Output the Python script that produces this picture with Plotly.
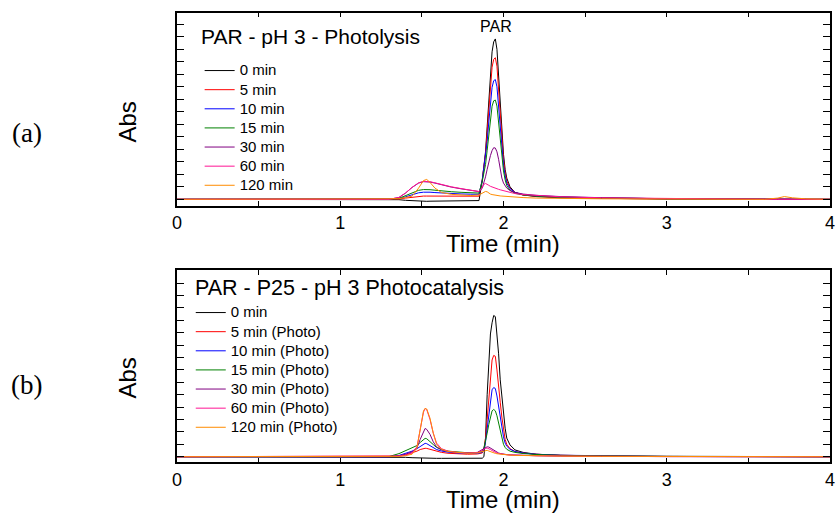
import plotly.graph_objects as go

# ---------------- data ----------------
# Panel (a): PAR - pH 3 - Photolysis
time_a = [0.00, 1.30, 1.36, 1.40, 1.44, 1.48, 1.51, 1.53, 1.55, 1.58, 1.62, 1.68, 1.74, 1.80, 1.85,
          1.87, 1.88, 1.89, 1.90, 1.91, 1.92, 1.93, 1.94, 1.95, 1.96, 1.97, 1.98, 1.99, 2.00, 2.01,
          2.02, 2.04, 2.07, 2.12, 2.20, 2.35, 2.60, 3.00, 3.60, 3.68, 3.72, 3.77, 3.85, 4.00]
labels_a = ["0 min", "5 min", "10 min", "15 min", "30 min", "60 min", "120 min"]
abs_a_0 = [0, 0, -0.03, -0.08, -0.12, -0.15, -0.16, -0.16, -0.15, -0.14, -0.13, -0.12, -0.12, -0.11, -0.10,
           1.5, 2.8, 3.8, 5.8, 8.0, 10.3, 11.8, 12.6, 12.83, 12.0, 10.0, 7.4, 5.4, 3.6, 2.4,
           1.7, 1.0, 0.55, 0.35, 0.22, 0.12, 0.06, 0.02, 0, 0, 0, 0, 0, 0]
abs_a_5 = [0, 0, 0.03, 0.10, 0.18, 0.24, 0.26, 0.26, 0.26, 0.25, 0.25, 0.24, 0.24, 0.24, 0.25,
           1.6, 2.74, 3.65, 5.35, 7.2, 9.26, 10.57, 11.2, 11.33, 10.65, 8.84, 6.57, 4.76, 3.17, 2.15,
           1.47, 0.9, 0.55, 0.35, 0.25, 0.15, 0.08, 0.03, 0, 0, 0, 0, 0, 0]
abs_a_10 = [0, 0, 0.06, 0.20, 0.38, 0.52, 0.57, 0.58, 0.57, 0.54, 0.50, 0.46, 0.43, 0.41, 0.40,
            1.55, 2.51, 3.22, 4.61, 6.19, 7.86, 8.96, 9.49, 9.58, 9.0, 7.47, 5.56, 4.02, 2.73, 1.87,
            1.3, 0.85, 0.55, 0.38, 0.27, 0.17, 0.10, 0.04, 0, 0, 0, 0, 0, 0]
abs_a_15 = [0, 0, 0.08, 0.28, 0.52, 0.72, 0.78, 0.79, 0.77, 0.73, 0.67, 0.61, 0.56, 0.52, 0.50,
            1.45, 2.2, 2.78, 3.92, 5.22, 6.55, 7.45, 7.88, 7.94, 7.46, 6.19, 4.61, 3.33, 2.27, 1.56,
            1.1, 0.72, 0.48, 0.35, 0.26, 0.17, 0.10, 0.04, 0, 0, 0, 0, 0, 0]
abs_a_30 = [0, 0, 0.15, 0.5, 0.95, 1.3, 1.41, 1.42, 1.38, 1.3, 1.15, 0.98, 0.84, 0.72, 0.62,
            0.9, 1.3, 1.8, 2.4, 3.0, 3.5, 3.9, 4.13, 4.1, 3.8, 3.2, 2.4, 1.7, 1.3, 1.05,
            0.9, 0.7, 0.55, 0.42, 0.32, 0.22, 0.13, 0.05, 0, 0, 0, 0, 0, 0]
abs_a_60 = [0, 0, 0.15, 0.5, 0.95, 1.32, 1.44, 1.45, 1.41, 1.32, 1.17, 1.0, 0.86, 0.74, 0.62,
            0.95, 1.2, 1.27, 1.22, 1.12, 1.04, 0.98, 0.93, 0.88, 0.84, 0.8, 0.76, 0.72, 0.68, 0.64,
            0.6, 0.54, 0.46, 0.38, 0.3, 0.2, 0.12, 0.05, 0, 0, 0, 0, 0, 0]
abs_a_120 = [0, 0, 0.05, 0.15, 0.25, 0.9, 1.5, 1.59, 1.35, 0.9, 0.55, 0.4, 0.33, 0.3, 0.35,
             0.5, 0.58, 0.63, 0.6, 0.5, 0.42, 0.38, 0.35, 0.33, 0.31, 0.29, 0.27, 0.26, 0.25, 0.24,
             0.22, 0.2, 0.17, 0.14, 0.1, 0.07, 0.04, 0.02, 0, 0.1, 0.22, 0.12, 0.04, 0]

# Panel (b): PAR - P25 - pH 3 Photocatalysis
time_b = [0.00, 1.30, 1.36, 1.40, 1.44, 1.47, 1.49, 1.51, 1.52, 1.53, 1.55, 1.57, 1.59, 1.62, 1.66,
          1.72, 1.78, 1.84, 1.87, 1.88, 1.89, 1.90, 1.91, 1.92, 1.93, 1.94, 1.95, 1.96, 1.97, 1.98,
          1.99, 2.00, 2.01, 2.02, 2.04, 2.07, 2.12, 2.20, 2.35, 2.60, 3.00, 4.00]
labels_b = ["0 min", "5 min (Photo)", "10 min (Photo)", "15 min (Photo)", "30 min (Photo)",
            "60 min (Photo)", "120 min (Photo)"]
abs_b_0 = [0, 0, -0.02, -0.05, -0.08, -0.1, -0.1, -0.08, -0.08, -0.08, -0.1, -0.12, -0.13, -0.13, -0.13,
           -0.13, -0.13, -0.12, -0.12, 0.0, 1.5, 5.0, 7.8, 9.9, 10.8, 11.39, 11.3, 9.9, 8.3, 6.2,
           4.8, 3.3, 2.3, 1.5, 0.95, 0.55, 0.35, 0.2, 0.1, 0.05, 0.02, 0]
abs_b_5 = [0, 0, 0.05, 0.15, 0.3, 0.45, 0.58, 0.66, 0.68, 0.67, 0.6, 0.5, 0.42, 0.35, 0.28,
           0.22, 0.2, 0.22, 0.3, 0.6, 1.5, 3.0, 4.6, 6.5, 7.8, 8.17, 8.1, 7.0, 5.9, 4.4,
           3.2, 2.2, 1.4, 1.0, 0.65, 0.42, 0.3, 0.2, 0.12, 0.06, 0.02, 0]
abs_b_10 = [0, 0, 0.1, 0.25, 0.45, 0.65, 0.85, 1.02, 1.08, 1.05, 0.9, 0.72, 0.58, 0.46, 0.37,
            0.3, 0.26, 0.27, 0.35, 0.6, 1.2, 2.2, 3.4, 4.6, 5.4, 5.58, 5.5, 4.9, 4.1, 3.0,
            2.2, 1.6, 1.1, 0.85, 0.6, 0.42, 0.3, 0.2, 0.12, 0.06, 0.02, 0]
abs_b_15 = [0, 0.02, 0.25, 0.5, 0.7, 0.9, 1.15, 1.42, 1.48, 1.45, 1.25, 0.98, 0.75, 0.58, 0.45,
            0.36, 0.32, 0.34, 0.45, 0.7, 1.2, 1.9, 2.6, 3.3, 3.7, 3.81, 3.7, 3.3, 2.7, 2.0,
            1.45, 1.0, 0.75, 0.6, 0.45, 0.35, 0.26, 0.18, 0.11, 0.06, 0.02, 0]
abs_b_30 = [0, 0, 0.08, 0.2, 0.4, 0.7, 1.4, 2.1, 2.28, 2.2, 1.8, 1.2, 0.8, 0.55, 0.42,
            0.33, 0.3, 0.35, 0.55, 0.65, 0.75, 0.8, 0.78, 0.7, 0.6, 0.5, 0.42, 0.35, 0.3, 0.26,
            0.23, 0.2, 0.18, 0.17, 0.15, 0.13, 0.11, 0.08, 0.05, 0.03, 0.01, 0]
abs_b_60 = [0, 0, 0.05, 0.12, 0.3, 0.8, 2.2, 3.6, 3.89, 3.8, 3.0, 1.9, 1.1, 0.65, 0.45,
            0.34, 0.3, 0.33, 0.5, 0.6, 0.68, 0.7, 0.66, 0.58, 0.5, 0.42, 0.36, 0.3, 0.26, 0.23,
            0.2, 0.18, 0.17, 0.16, 0.14, 0.12, 0.1, 0.08, 0.05, 0.03, 0.01, 0]
abs_b_120 = [0, 0, 0.03, 0.08, 0.2, 0.7, 2.3, 3.7, 3.9, 3.85, 3.1, 1.9, 1.0, 0.6, 0.42,
             0.32, 0.28, 0.3, 0.42, 0.5, 0.54, 0.52, 0.46, 0.4, 0.34, 0.3, 0.27, 0.24, 0.22, 0.2,
             0.18, 0.17, 0.16, 0.15, 0.13, 0.11, 0.09, 0.07, 0.05, 0.03, 0.01, 0]

x_ticks = [0, 1, 2, 3, 4]
par_peak_time = 1.955
title_a = "PAR - pH 3 - Photolysis"
title_b = "PAR - P25 - pH 3 Photocatalysis"

series_a = [abs_a_0, abs_a_5, abs_a_10, abs_a_15, abs_a_30, abs_a_60, abs_a_120]
series_b = [abs_b_0, abs_b_5, abs_b_10, abs_b_15, abs_b_30, abs_b_60, abs_b_120]
colors = ["#000000", "#ff0000", "#0000ff", "#008000", "#800080", "#ff1493", "#ff8c00"]

# ---------------- figure ----------------
W, H = 840, 514
FONT = "Liberation Sans, Arial, sans-serif"
SERIF = "Liberation Serif, Times New Roman, serif"
LEG_TXT = "<span style='font-size:15px'>{}</span>"

fig = go.Figure()
for name, ys, c in zip(labels_a, series_a, colors):
    fig.add_trace(go.Scatter(x=time_a, y=ys, mode="lines", name=LEG_TXT.format(name),
                             line=dict(color=c, width=1), xaxis="x", yaxis="y", legend="legend"))
for name, ys, c in zip(labels_b, series_b, colors):
    fig.add_trace(go.Scatter(x=time_b, y=ys, mode="lines", name=LEG_TXT.format(name),
                             line=dict(color=c, width=1), xaxis="x2", yaxis="y2", legend="legend2"))

def px_x(p):
    return p / W

def px_y(p):
    return 1 - p / H

xcommon = dict(range=[0, 4], tickvals=x_ticks, ticks="inside", ticklen=5, tickwidth=1.2,
               tickcolor="black", showline=True, linecolor="black", linewidth=1.5, mirror="ticks",
               showgrid=False, zeroline=False, ticklabeloverflow="allow",
               tickfont=dict(size=18, color="black", family=FONT),
               minor=dict(dtick=0.5, ticks="inside", ticklen=5, tickwidth=1.2, tickcolor="black",
                          showgrid=False))
ycommon = dict(dtick=1, tick0=0, ticks="inside", ticklen=7, tickwidth=1.2, tickcolor="black",
               showline=True, linecolor="black", linewidth=1.5, mirror="ticks",
               showgrid=False, zeroline=False, showticklabels=False)

plot_l, plot_r = 174, 835
leg_common = dict(xanchor="left", yanchor="top", bgcolor="rgba(0,0,0,0)", borderwidth=0,
                  font=dict(size=12.4, family=FONT, color="black"))
fig.update_layout(
    width=W, height=H, margin=dict(l=0, r=0, t=0, b=0),
    paper_bgcolor="white", plot_bgcolor="white",
    font=dict(family=FONT, color="black"),
    xaxis=dict(domain=[px_x(plot_l), px_x(plot_r)], anchor="y", **xcommon),
    yaxis=dict(domain=[px_y(205.7), px_y(12.7)], anchor="x", range=[-0.51, 14.93], **ycommon),
    xaxis2=dict(domain=[px_x(plot_l), px_x(plot_r)], anchor="y2", **xcommon),
    yaxis2=dict(domain=[px_y(462.3), px_y(270)], anchor="x2", range=[-0.45, 15.06], **ycommon),
    legend=dict(x=px_x(197), y=px_y(56), **leg_common),
    legend2=dict(x=px_x(188), y=px_y(298), **leg_common),
    showlegend=True,
)

ann = [
    dict(text="PAR", x=par_peak_time, y=max(abs_a_0), xref="x", yref="y", yanchor="bottom",
         showarrow=False, font=dict(size=16), yshift=2),
    dict(text=title_a, x=px_x(196), y=px_y(37), xref="paper", yref="paper",
         xanchor="left", yanchor="middle", showarrow=False, font=dict(size=21)),
    dict(text=title_b, x=px_x(190), y=px_y(287.5), xref="paper", yref="paper",
         xanchor="left", yanchor="middle", showarrow=False, font=dict(size=21.5)),
    dict(text="Time (min)", x=px_x((plot_l + plot_r) / 2), y=px_y(243), xref="paper", yref="paper",
         xanchor="center", yanchor="middle", showarrow=False, font=dict(size=24)),
    dict(text="Time (min)", x=px_x((plot_l + plot_r) / 2), y=px_y(499), xref="paper", yref="paper",
         xanchor="center", yanchor="middle", showarrow=False, font=dict(size=24)),
    dict(text="Abs", x=px_x(123), y=px_y(122), xref="paper", yref="paper", textangle=-90,
         xanchor="center", yanchor="middle", showarrow=False, font=dict(size=24)),
    dict(text="Abs", x=px_x(123), y=px_y(378), xref="paper", yref="paper", textangle=-90,
         xanchor="center", yanchor="middle", showarrow=False, font=dict(size=24)),
    dict(text="(a)", x=px_x(22), y=px_y(133), xref="paper", yref="paper", showarrow=False,
         xanchor="center", yanchor="middle", font=dict(size=27, family=SERIF)),
    dict(text="(b)", x=px_x(22), y=px_y(385), xref="paper", yref="paper", showarrow=False,
         xanchor="center", yanchor="middle", font=dict(size=27, family=SERIF)),
]
fig.update_layout(annotations=ann)

fig.write_html("out.html", config={"displayModeBar": False},
               post_script="document.body.style.margin='0px';document.body.style.overflow='hidden';")
